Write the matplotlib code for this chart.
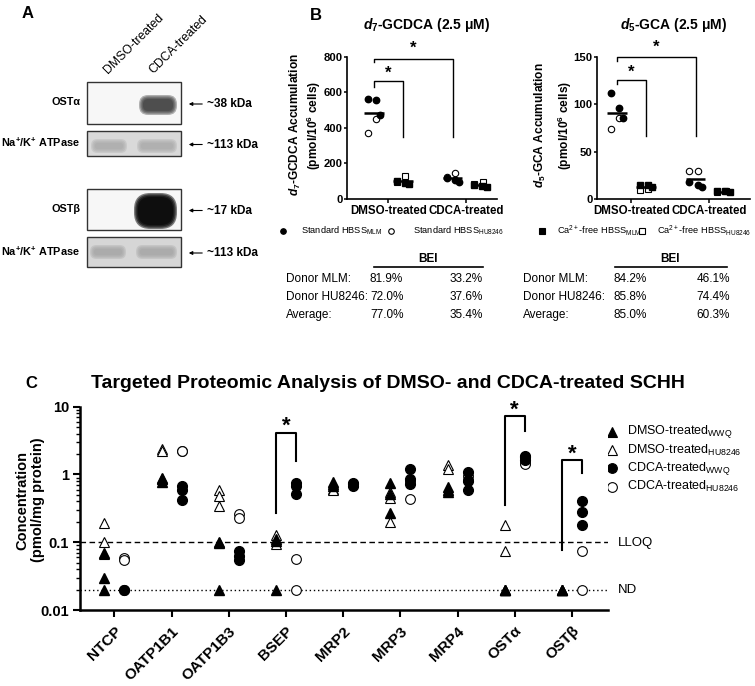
import numpy as np
import matplotlib
matplotlib.use('Agg')
import matplotlib.pyplot as plt
from matplotlib.patches import Rectangle, FancyBboxPatch
from matplotlib.ticker import LogLocator, NullFormatter

plt.rcParams['font.family'] = 'Liberation Sans'
plt.rcParams['mathtext.fontset'] = 'custom'
plt.rcParams['mathtext.rm'] = 'Liberation Sans'
plt.rcParams['mathtext.bf'] = 'Liberation Sans:bold'
plt.rcParams['mathtext.it'] = 'Liberation Sans:italic:bold'

# ---------------- data ----------------
# panel B: accumulation (pmol/10^6 cells)
# order: DMSO standard, DMSO Ca-free, CDCA standard, CDCA Ca-free
b_groups = ['DMSO-treated', 'CDCA-treated']
gcdca_mlm = [[563, 555, 473], [100, 92, 85], [118, 107, 94], [80, 72, 68]]
gcdca_hu = [[451, 373], [131, 94], [144, 125], [94, 85]]
gca_mlm = [[112, 96, 85], [15, 15, 13], [18, 15, 13], [8, 8, 7]]
gca_hu = [[85, 74], [11, 10], [29, 30], [8, 7]]

bei_rows = ['Donor MLM:', 'Donor HU8246:', 'Average:']
bei_gcdca = [[81.9, 72.0, 77.0], [33.2, 37.6, 35.4]]
bei_gca = [[84.2, 85.8, 85.0], [46.1, 74.4, 60.3]]

# panel C: concentration (pmol/mg protein)
proteins = ['NTCP', 'OATP1B1', 'OATP1B3', 'BSEP', 'MRP2', 'MRP3', 'MRP4', 'OSTα', 'OSTβ']
dmso_wwq = [[0.07, 0.03, 0.02], [0.9, 0.85, 0.78], [0.1, 0.098, 0.02], [0.11, 0.105, 0.02],
            [0.78, 0.72, 0.68], [0.75, 0.52, 0.27], [0.66, 0.6, 0.55], [0.02, 0.02, 0.02],
            [0.02, 0.02, 0.02]]
dmso_hu = [[0.19, 0.10, 0.068], [2.4, 2.2], [0.6, 0.48, 0.34], [0.13, 0.095], [0.62, 0.6],
           [0.55, 0.45, 0.2], [1.4, 1.2], [0.18, 0.075], [0.02]]
cdca_wwq = [[0.02, 0.02], [0.68, 0.6, 0.42], [0.074, 0.062, 0.055], [0.76, 0.68, 0.52],
            [0.75, 0.72, 0.68], [1.22, 0.85, 0.72], [1.1, 0.8, 0.6], [1.9, 1.78, 1.65],
            [0.4, 0.28, 0.18]]
cdca_hu = [[0.058, 0.054], [2.25, 2.2], [0.26, 0.23], [0.056, 0.02], [0.7, 0.7], [0.8, 0.43],
           [0.95, 0.83], [1.5, 1.45], [0.075, 0.02]]
lloq = 0.1
nd = 0.02

W, H = 755, 686
fig = plt.figure(figsize=(W / 100, H / 100), dpi=100)

# overlay in pixel coords for the blots and free text
ov = fig.add_axes([0, 0, 1, 1])
ov.set_xlim(0, W)
ov.set_ylim(H, 0)
ov.axis('off')


def px_rect(x0, y0, x1, y1):
    return [x0 / W, 1 - y1 / H, (x1 - x0) / W, (y1 - y0) / H]


# ---------------- panel A ----------------
ov.text(28, 13, 'A', fontsize=12, fontweight='bold', ha='center', va='center')
ov.text(110, 76, 'DMSO-treated', fontsize=8.8, rotation=45, rotation_mode='anchor',
        ha='left', va='bottom')
ov.text(155, 76, 'CDCA-treated', fontsize=8.8, rotation=45, rotation_mode='anchor',
        ha='left', va='bottom')


def band(x0, x1, y0, y1, color, n=4, a=0.35):
    for k in range(n):
        s = k * 1.3
        hh = y1 - y0 - 2 * s
        ov.add_patch(FancyBboxPatch((x0 + s, y0 + s), x1 - x0 - 2 * s, hh,
                                    boxstyle='round,pad=0,rounding_size=%.2f' % (hh / 2.2),
                                    fc=color, ec='none', alpha=a))


nak = 'Na$^\\mathbf{+}$/K$^\\mathbf{+}$ ATPase'
blots = [(82, 124, '#f7f7f7', 'OSTα', '~38 kDa'),
         (131, 156, '#d9d9d9', nak, '~113 kDa'),
         (189, 230, '#f7f7f7', 'OSTβ', '~17 kDa'),
         (237, 267, '#d6d6d6', nak, '~113 kDa')]
for y0, y1, fc, lab, kda in blots:
    ov.add_patch(Rectangle((87, y0), 94, y1 - y0, fc=fc, ec='#333333', lw=1.0))
    yc = (y0 + y1) / 2
    ov.text(80, yc - 1, lab, fontsize=7.8, fontweight='bold', ha='right', va='center')
    ov.annotate('', xy=(186, yc + 1), xytext=(205, yc + 1),
                arrowprops=dict(arrowstyle='-|>', color='k', lw=0.8, mutation_scale=5))
    ov.text(207, yc + 1, kda, fontsize=8.5, fontweight='bold', ha='left', va='center')

band(139, 177, 95, 115, '#2b2b2b')
band(91, 127, 139, 153, '#a5a5a5', a=0.3)
band(137, 177, 139, 153, '#a5a5a5', a=0.3)
band(134, 177, 193, 229, '#000000', a=0.5)
band(90, 126, 245, 259, '#a0a0a0', a=0.3)
band(136, 177, 245, 259, '#a0a0a0', a=0.3)

# ---------------- panel B ----------------
ov.text(316, 15, 'B', fontsize=12, fontweight='bold', ha='center', va='center')
xpos = [0, 1, 2.72, 3.67]
jit_mlm = [-0.22, 0.07, 0.22]
jit_hu = [0.08, -0.22]
markers = ['o', 's', 'o', 's']


def draw_b(rect, xlim, ymax, yticks, mlm, hu, brackets, title, tx, ylab1, ylab2, lx1, lx2):
    ax = fig.add_axes(px_rect(*rect))
    for i, x in enumerate(xpos):
        m = markers[i]
        for j, v in enumerate(hu[i]):
            ax.plot(x + jit_hu[j], v, m, ms=4.6, mfc='white', mec='k', mew=0.8, zorder=3)
        for j, v in enumerate(mlm[i]):
            ax.plot(x + jit_mlm[j], v, m, ms=4.6, color='k', zorder=4)
        mean = np.mean(mlm[i] + hu[i])
        ax.hlines(mean, x - 0.33, x + 0.33, color='k', lw=1.8, zorder=5)
    for xa, xb, yl, yt, yr, ys in brackets:
        ax.plot([xpos[xa], xpos[xa], xpos[xb], xpos[xb]], [yl, yt, yt, yr], color='k',
                lw=1.0, clip_on=False)
        ax.text((xpos[xa] + xpos[xb]) / 2, ys, '*', fontsize=12, fontweight='bold',
                ha='center', va='center')
    ax.set_xlim(*xlim)
    ax.set_ylim(0, ymax)
    ax.spines[['top', 'right']].set_visible(False)
    ax.spines[['left', 'bottom']].set_linewidth(1.2)
    ax.set_yticks(yticks)
    ax.set_yticklabels([str(t) for t in yticks], fontsize=8.1, fontweight='bold')
    ax.set_xticks([0.5, 3.18])
    ax.set_xticklabels(b_groups, fontsize=8.3, fontweight='bold')
    ax.tick_params(length=2.2, width=1.1, pad=0.8)
    ax.tick_params(axis='x', length=3, pad=1.5)
    ov.text(tx, 25, title, fontsize=10, fontweight='bold', ha='center', va='center')
    ov.text(lx1, 125, ylab1, fontsize=8.6, fontweight='bold', ha='center', va='center',
            rotation=90)
    ov.text(lx2, 125, ylab2, fontsize=8.6, fontweight='bold', ha='center', va='center',
            rotation=90)
    return ax


draw_b((347, 56.7, 497, 199), (-0.93, 4.24), 800, [0, 200, 400, 600, 800],
       gcdca_mlm, gcdca_hu, [(0, 1, 627, 666, 347, 708), (0, 2, 768, 789, 347, 850)],
       '$\\mathit{d}_\\mathbf{7}$-GCDCA (2.5 μM)', 427,
       '$\\mathit{d}_\\mathbf{7}$-GCDCA Accumulation', '(pmol/10$^\\mathbf{6}$ cells)',
       295, 314)
draw_b((597, 56.7, 750, 199), (-0.69, 4.59), 150, [0, 50, 100, 150],
       gca_mlm, gca_hu, [(0, 1, 121.6, 125.8, 66, 134), (0, 2, 145, 149.8, 66, 160)],
       '$\\mathit{d}_\\mathbf{5}$-GCA (2.5 μM)', 674,
       '$\\mathit{d}_\\mathbf{5}$-GCA Accumulation', '(pmol/10$^\\mathbf{6}$ cells)',
       540, 565)

# legend row of panel B
leg_b = [('o', 'k', 'Standard HBSS$_{\\rm MLM}$'),
         ('o', 'white', 'Standard HBSS$_{\\rm HU8246}$'),
         ('s', 'k', 'Ca$^{2+}$-free HBSS$_{\\rm MLM}$'),
         ('s', 'white', 'Ca$^{2+}$-free HBSS$_{\\rm HU8246}$')]
for (m, fc, lab), mx, tx in zip(leg_b, [283, 391, 542, 642], [301, 413, 557, 657]):
    ov.plot(mx, 231, m, ms=4, mfc=fc, mec='k', mew=0.8)
    ov.text(tx, 231, lab, fontsize=6.7, ha='left', va='center')

# BEI tables
for vals, lx, c1, c2, bx, u0, u1 in [(bei_gcdca, 286, 370, 483, 428, 374, 483),
                                      (bei_gca, 523, 613, 730, 670, 615, 727)]:
    ov.text(bx, 259, 'BEI', fontsize=8.5, fontweight='bold', ha='center', va='center')
    ov.plot([u0, u1], [267, 267], color='k', lw=1.2)
    for r, name in enumerate(bei_rows):
        y = 279 + r * 18
        ov.text(lx, y, name, fontsize=8.5, ha='left', va='center')
        ov.text(c1, y, '%.1f%%' % vals[0][r], fontsize=8.5, ha='left', va='center')
        ov.text(c2, y, '%.1f%%' % vals[1][r], fontsize=8.5, ha='right', va='center')

# ---------------- panel C ----------------
ov.text(31, 383, 'C', fontsize=12, fontweight='bold', ha='center', va='center')
ov.text(388, 384, 'Targeted Proteomic Analysis of DMSO- and CDCA-treated SCHH',
        fontsize=14, fontweight='bold', ha='center', va='center')

axc = fig.add_axes(px_rect(80, 406.7, 608, 610))
off = 0.175
xc = np.arange(len(proteins))
for i in xc:
    axc.plot([i - off] * len(dmso_hu[i]), dmso_hu[i], '^', ms=7.5, mfc='white', mec='k',
             mew=0.8, zorder=3)
    axc.plot([i - off] * len(dmso_wwq[i]), dmso_wwq[i], '^', ms=7.5, color='k', zorder=4)
    axc.plot([i + off] * len(cdca_hu[i]), cdca_hu[i], 'o', ms=7, mfc='white', mec='k',
             mew=0.8, zorder=3)
    axc.plot([i + off] * len(cdca_wwq[i]), cdca_wwq[i], 'o', ms=7, color='k', zorder=4)

axc.axhline(lloq, color='k', lw=1.0, ls=(0, (4, 2.5)), zorder=1)
axc.axhline(nd, color='k', lw=1.0, ls=(0, (1, 2)), zorder=1)

for i, yl, yt, yr in [(3, 0.27, 4.1, 1.57), (7, 0.36, 7.2, 4.34), (8, 0.078, 1.62, 1.06)]:
    axc.plot([i - off, i - off, i + off, i + off], [yl, yt, yt, yr], color='k', lw=1.5,
             clip_on=False)
    axc.annotate('*', xy=(i, yt), xytext=(0, -3), textcoords='offset points', fontsize=16,
                 fontweight='bold', ha='center', va='bottom', annotation_clip=False)

axc.set_yscale('log')
axc.set_ylim(0.01, 10)
axc.set_xlim(-0.6, 8.63)
axc.spines[['top', 'right']].set_visible(False)
axc.spines[['left', 'bottom']].set_linewidth(1.8)
axc.set_yticks([0.01, 0.1, 1, 10])
axc.set_yticklabels(['0.01', '0.1', '1', '10'], fontsize=10.5, fontweight='bold')
axc.yaxis.set_minor_locator(LogLocator(base=10, subs=np.arange(2, 10)))
axc.yaxis.set_minor_formatter(NullFormatter())
axc.set_xticks(xc)
axc.set_xticklabels(proteins, fontsize=11, fontweight='bold', rotation=45, ha='right',
                    rotation_mode='anchor')
axc.tick_params(which='major', length=5, width=1.5, pad=3)
axc.tick_params(axis='x', pad=5)
axc.tick_params(which='minor', length=3, width=1.0)
ov.text(30, 500, 'Concentration\n(pmol/mg protein)', fontsize=10.5, fontweight='bold',
        rotation=90, ha='center', va='center', multialignment='center', linespacing=1.2)

ov.text(618, 542.7, 'LLOQ', fontsize=9.5, ha='left', va='center')
ov.text(618, 590, 'ND', fontsize=9.5, ha='left', va='center')

leg_c = [('^', 'k', 'DMSO-treated$_{\\rm WWQ}$'),
         ('^', 'white', 'DMSO-treated$_{\\rm HU8246}$'),
         ('o', 'k', 'CDCA-treated$_{\\rm WWQ}$'),
         ('o', 'white', 'CDCA-treated$_{\\rm HU8246}$')]
for r, (m, fc, lab) in enumerate(leg_c):
    y = 431.7 + r * 18.3
    ov.plot(611.7, y, m, ms=7, mfc=fc, mec='k', mew=0.8)
    ov.text(626.7, y, lab, fontsize=9, ha='left', va='center')

fig.savefig('out.png', dpi=100)
